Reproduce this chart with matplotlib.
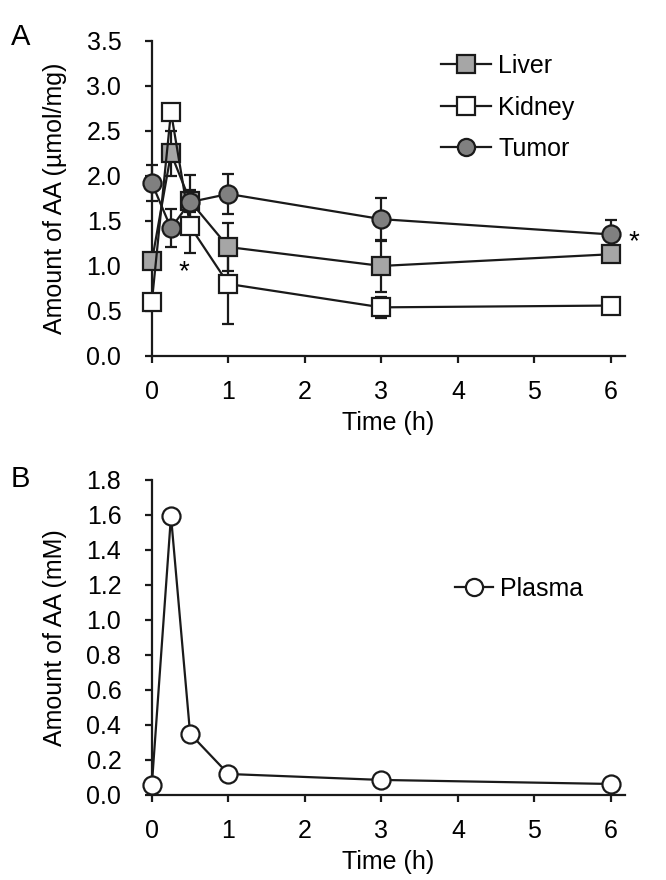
import matplotlib
matplotlib.use("Agg")
import matplotlib.pyplot as plt

plt.rcParams["font.family"] = ["Liberation Sans", "DejaVu Sans"]
plt.rcParams["font.size"] = 18

# time points (h)
time_h = [0, 0.25, 0.5, 1, 3, 6]

# panel A: tissue AA (umol/mg), mean and error
liver = [1.05, 2.25, 1.72, 1.21, 1.00, 1.13]
liver_err = [0.08, 0.25, 0.12, 0.27, 0.29, 0.06]
kidney = [0.60, 2.71, 1.44, 0.80, 0.54, 0.56]
kidney_err = [0.05, 0.08, 0.30, 0.44, 0.12, 0.04]
tumor = [1.92, 1.42, 1.71, 1.80, 1.52, 1.35]
tumor_err = [0.20, 0.21, 0.30, 0.22, 0.24, 0.16]

# panel B: plasma AA (mM)
plasma = [0.057, 1.594, 0.35, 0.12, 0.086, 0.063]

A_yticks = [0.0, 0.5, 1.0, 1.5, 2.0, 2.5, 3.0, 3.5]
B_yticks = [0.0, 0.2, 0.4, 0.6, 0.8, 1.0, 1.2, 1.4, 1.6, 1.8]
x_ticks = [0, 1, 2, 3, 4, 5, 6]

EDGE = "#1a1a1a"
LW = 1.6
MS = 13
FS = 18


def style_axis(ax, ylim, yticks):
    ax.set_xlim(0, 6.18)
    ax.set_ylim(*ylim)
    ax.set_xticks(x_ticks)
    ax.set_yticks(yticks)
    ax.set_yticklabels([f"{v:.1f}" for v in yticks])
    for side in ("top", "right"):
        ax.spines[side].set_visible(False)
    for side in ("left", "bottom"):
        ax.spines[side].set_linewidth(1.6)
        ax.spines[side].set_color(EDGE)
    ax.tick_params(direction="out", length=5, width=1.6, color=EDGE,
                   labelsize=FS)
    ax.tick_params(axis="y", pad=17)
    ax.tick_params(axis="x", pad=12)
    ax.set_xlabel("Time (h)", fontsize=FS, labelpad=5)


fig = plt.figure(figsize=(6.66, 8.8), dpi=100)
axA = fig.add_axes([0.228, 0.5955, 0.710, 0.358])
axB = fig.add_axes([0.228, 0.0966, 0.710, 0.358])

series = [
    ("Liver", liver, liver_err, "s", "#a6a6a6", 3),
    ("Kidney", kidney, kidney_err, "s", "white", 4),
    ("Tumor", tumor, tumor_err, "o", "#808080", 5),
]
for name, vals, err, mk, fc, z in series:
    axA.errorbar(time_h, vals, yerr=err, fmt="none", ecolor=EDGE,
                 elinewidth=LW, capsize=4, capthick=LW, zorder=2, clip_on=False)
    axA.plot(time_h, vals, "-", color=EDGE, lw=LW, marker=mk, ms=MS,
             mfc=fc, mec=EDGE, mew=1.6, label=name, zorder=z, clip_on=False)

axA.text(0.42, 0.93, "*", fontsize=20, ha="center", va="center")
axA.text(6.3, 1.26, "*", fontsize=20, ha="center", va="center")

style_axis(axA, (0, 3.5), A_yticks)
axA.set_ylabel("Amount of AA (\u00b5mol/mg)", fontsize=FS, labelpad=14)
axA.legend(loc="upper left", bbox_to_anchor=(0.59, 0.99), frameon=False,
           handlelength=2.0, handletextpad=0.3, labelspacing=0.7,
           borderaxespad=0, fontsize=FS, markerscale=0.95)

axB.plot(time_h, plasma, "-", color=EDGE, lw=LW, marker="o", ms=MS,
         mfc="white", mec=EDGE, mew=1.6, label="Plasma", zorder=3, clip_on=False)
style_axis(axB, (0, 1.8), B_yticks)
axB.set_ylabel("Amount of AA (mM)", fontsize=FS, labelpad=14)
axB.legend(loc="upper left", bbox_to_anchor=(0.62, 0.725), frameon=False,
           handlelength=1.5, handletextpad=0.3, borderaxespad=0, fontsize=FS,
           markerscale=0.95)

fig.text(0.016, 0.958, "A", fontsize=21, va="center", ha="left")
fig.text(0.016, 0.456, "B", fontsize=21, va="center", ha="left")

fig.savefig("out.png", dpi=100)
